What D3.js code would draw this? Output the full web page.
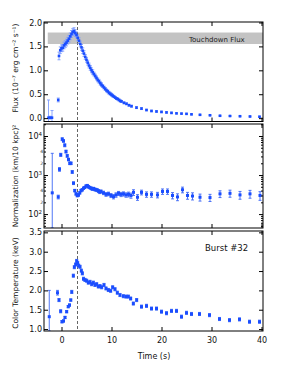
<!DOCTYPE html>
<html lang="en">
<head>
<meta charset="UTF-8">
<title>Burst #32</title>
<script src="https://d3js.org/d3.v7.min.js"></script>
<style>
  body { margin: 0; background: #fff; }
  text { font-family: "DejaVu Sans", Verdana, sans-serif; }
</style>
</head>
<body>
<div id="root"></div>
<script>
  // flux: [time (s), flux (1e-7 erg/cm2/s), error]
  const fluxData = [
    [-2.6, 0.01, 0.37], [-2.25, 0.01, 0.03], [-1.9, 0.01, 0.15], [-0.65, 0.38, 0.04],
    [-0.5, 1.30, 0.08], [-0.25, 1.42, 0.07], [0.0, 1.46, 0.07], [0.25, 1.47, 0.07],
    [0.5, 1.52, 0.07], [0.75, 1.55, 0.07], [1.0, 1.58, 0.07], [1.25, 1.62, 0.07],
    [1.5, 1.66, 0.07], [1.75, 1.71, 0.07], [2.0, 1.76, 0.07], [2.25, 1.80, 0.07],
    [2.5, 1.82, 0.07], [2.75, 1.78, 0.07], [3.0, 1.74, 0.06], [3.25, 1.68, 0.06],
    [3.5, 1.62, 0.06], [3.75, 1.55, 0.06], [4.0, 1.48, 0.06], [4.25, 1.41, 0.06],
    [4.5, 1.35, 0.06], [4.75, 1.28, 0.05], [5.0, 1.22, 0.05], [5.25, 1.16, 0.05],
    [5.5, 1.10, 0.05], [5.75, 1.05, 0.05], [6.0, 1.00, 0.05], [6.25, 0.96, 0.05],
    [6.5, 0.92, 0.04], [6.75, 0.88, 0.04], [7.0, 0.84, 0.04], [7.25, 0.80, 0.04],
    [7.5, 0.77, 0.04], [7.75, 0.73, 0.04], [8.0, 0.70, 0.04], [8.25, 0.67, 0.03],
    [8.5, 0.64, 0.03], [8.75, 0.61, 0.03], [9.0, 0.58, 0.03], [9.25, 0.56, 0.03],
    [9.5, 0.53, 0.03], [9.75, 0.51, 0.03], [10.0, 0.49, 0.03], [10.25, 0.47, 0.03],
    [10.5, 0.45, 0.02], [10.75, 0.43, 0.02], [11.0, 0.41, 0.02], [11.25, 0.40, 0.02],
    [11.5, 0.38, 0.02], [11.75, 0.36, 0.02], [12.0, 0.35, 0.02], [12.5, 0.32, 0.02],
    [13.0, 0.30, 0.02], [13.5, 0.27, 0.02], [14.0, 0.25, 0.02], [15.0, 0.22, 0.02],
    [16.0, 0.20, 0.02], [17.0, 0.17, 0.015], [18.0, 0.15, 0.015], [19.0, 0.14, 0.015],
    [20.0, 0.13, 0.015], [21.0, 0.12, 0.015], [22.0, 0.11, 0.015], [23.0, 0.10, 0.01],
    [24.0, 0.095, 0.01], [25.0, 0.09, 0.01], [26.0, 0.08, 0.01], [27.7, 0.07, 0.01],
    [29.7, 0.06, 0.01], [31.7, 0.05, 0.01], [33.7, 0.045, 0.01], [35.7, 0.04, 0.01],
    [37.7, 0.035, 0.01], [39.6, 0.03, 0.01]
  ]

  // normalization: [time (s), (km/10 kpc)^2, error]
  const normData = [
    [-1.85, 350, 3250], [-0.65, 275, 30], [-0.4, 1400, 150], [-0.15, 3300, 300],
    [0.15, 8300, 700], [0.4, 7500, 600], [0.65, 5800, 500], [0.9, 4000, 350],
    [1.15, 3100, 250], [1.4, 2500, 200], [1.65, 2000, 150], [1.9, 2000, 150],
    [2.15, 1200, 100], [2.4, 620, 50], [2.65, 400, 30], [2.9, 330, 25],
    [3.15, 300, 25], [3.4, 310, 25], [3.65, 350, 25], [3.9, 400, 30],
    [4.15, 420, 30], [4.4, 460, 30], [4.65, 480, 30], [4.9, 520, 35],
    [5.15, 540, 35], [5.4, 500, 35], [5.65, 480, 35], [5.9, 460, 35],
    [6.15, 440, 35], [6.4, 450, 35], [6.65, 430, 35], [6.9, 420, 35],
    [7.15, 410, 35], [7.4, 390, 35], [7.65, 370, 35], [7.9, 380, 35],
    [8.4, 350, 35], [8.9, 320, 35], [9.4, 330, 35], [9.9, 300, 35],
    [10.4, 280, 35], [10.9, 310, 40], [11.4, 340, 40], [11.9, 320, 40],
    [12.4, 330, 40], [12.9, 310, 40], [13.4, 320, 45], [13.9, 300, 45],
    [14.4, 360, 60], [15.2, 270, 45], [16.0, 360, 50], [17.0, 320, 50],
    [18.0, 320, 50], [19.2, 310, 50], [20.2, 380, 60], [21.2, 380, 60],
    [22.2, 300, 55], [23.2, 275, 55], [24.2, 420, 70], [25.2, 300, 60],
    [26.2, 290, 60], [27.7, 270, 55], [29.7, 265, 55], [31.7, 330, 65],
    [33.7, 340, 70], [35.7, 310, 70], [37.7, 330, 75], [39.7, 300, 75]
  ]

  // color temperature: [time (s), kT (keV), error]
  const tempData = [
    [-2.45, 1.32, 0.68], [-0.8, 1.94, 0.06], [-0.5, 1.75, 0.04], [-0.17, 1.46, 0.04],
    [0.1, 1.19, 0.03], [0.4, 1.21, 0.03], [0.7, 1.30, 0.03], [1.03, 1.45, 0.03],
    [1.35, 1.58, 0.03], [1.6, 1.62, 0.03], [1.85, 1.75, 0.03], [2.05, 1.96, 0.04],
    [2.37, 2.38, 0.04], [2.57, 2.60, 0.04], [2.83, 2.67, 0.04], [3.03, 2.76, 0.04],
    [3.23, 2.71, 0.04], [3.43, 2.64, 0.04], [3.7, 2.61, 0.04], [3.97, 2.51, 0.04],
    [4.17, 2.44, 0.04], [4.4, 2.30, 0.04], [4.7, 2.27, 0.04], [5.03, 2.25, 0.04],
    [5.37, 2.20, 0.04], [5.7, 2.22, 0.04], [6.03, 2.16, 0.04], [6.37, 2.20, 0.04],
    [6.7, 2.14, 0.04], [7.03, 2.16, 0.04], [7.37, 2.10, 0.04], [7.7, 2.11, 0.04],
    [8.03, 2.08, 0.04], [8.5, 2.14, 0.04], [8.9, 2.05, 0.04], [9.37, 2.01, 0.04],
    [9.83, 1.99, 0.04], [10.23, 2.08, 0.04], [10.7, 2.03, 0.04], [11.17, 1.94, 0.04],
    [11.7, 1.88, 0.04], [12.37, 1.85, 0.04], [12.9, 1.84, 0.04], [13.37, 1.84, 0.04],
    [13.83, 1.79, 0.04], [14.37, 1.66, 0.04], [15.03, 1.75, 0.04], [16.0, 1.58, 0.04],
    [17.0, 1.60, 0.04], [18.0, 1.53, 0.04], [19.0, 1.53, 0.04], [20.0, 1.45, 0.04],
    [21.0, 1.41, 0.04], [22.0, 1.47, 0.04], [23.0, 1.47, 0.04], [24.0, 1.32, 0.04],
    [25.0, 1.42, 0.04], [26.0, 1.39, 0.04], [27.6, 1.39, 0.04], [29.6, 1.36, 0.04],
    [31.6, 1.26, 0.04], [33.6, 1.23, 0.04], [35.6, 1.25, 0.04], [37.6, 1.19, 0.04],
    [39.6, 1.19, 0.04]
  ]

  const touchdown = [1.55, 1.79]      // touchdown flux band
  const touchdownStart = -2.75
  const peakTime = 3.2                 // dashed line
  const xTicks = [0, 10, 20, 30, 40]
  const fluxTicks = [0, 0.5, 1.0, 1.5, 2.0]
  const normTicks = [100, 1000, 10000]
  const normMinorLabels = [200, 400, 2000, 4000]
  const tempTicks = [1.0, 1.5, 2.0, 2.5, 3.0, 3.5]

  const blue = '#1a4dff'
  const width = 298, height = 385
  const left = 44, right = 263

  const svg = d3.select('#root').append('svg')
    .attr('width', width).attr('height', height)
    .style('background', '#fff')

  const x = d3.scaleLinear().domain([-3.5, 40.3]).range([left, right])
  const yFlux = d3.scaleLinear().domain([-0.07, 2.01]).range([121.5, 22])
  const yNorm = d3.scaleLog().domain([44, 20300]).range([228, 124])
  const yTemp = d3.scaleLinear().domain([0.95, 3.535]).range([331, 231])

  function drawPanel(id, y, data, opt) {
    const top = y.range()[1], bottom = y.range()[0]
    svg.append('clipPath').attr('id', id)
      .append('rect').attr('x', left).attr('y', top)
      .attr('width', right - left).attr('height', bottom - top)
    const g = svg.append('g').attr('clip-path', `url(#${id})`)

    if (opt.band) {
      g.append('rect')
        .attr('x', x(touchdownStart)).attr('y', y(touchdown[1]))
        .attr('width', right - x(touchdownStart))
        .attr('height', y(touchdown[0]) - y(touchdown[1]))
        .attr('fill', '#c3c3c3')
    }

    // dashed line at peak
    g.append('line')
      .attr('x1', x(peakTime)).attr('x2', x(peakTime))
      .attr('y1', top).attr('y2', bottom)
      .attr('stroke', '#555').attr('stroke-width', 0.9)
      .attr('stroke-dasharray', '3,2')

    const lo = d => y(Math.max(d[1] - d[2], y.domain()[0]))
    const hi = d => y(d[1] + d[2])
    const err = g.append('g').attr('stroke', opt.errColor).attr('stroke-width', 0.9)
    err.selectAll('line.v').data(data).enter().append('line')
      .attr('class', 'v')
      .attr('x1', d => x(d[0])).attr('x2', d => x(d[0]))
      .attr('y1', lo).attr('y2', hi)
    err.selectAll('line.c1').data(data).enter().append('line')
      .attr('class', 'c1')
      .attr('x1', d => x(d[0]) - 1.5).attr('x2', d => x(d[0]) + 1.5)
      .attr('y1', hi).attr('y2', hi)
    err.selectAll('line.c2').data(data).enter().append('line')
      .attr('class', 'c2')
      .attr('x1', d => x(d[0]) - 1.5).attr('x2', d => x(d[0]) + 1.5)
      .attr('y1', lo).attr('y2', lo)

    const s = opt.size
    g.selectAll('rect.pt').data(data).enter().append('rect')
      .attr('class', 'pt')
      .attr('x', d => x(d[0]) - s / 2).attr('y', d => y(d[1]) - s / 2)
      .attr('width', s).attr('height', s)
      .attr('fill', blue)

    // frame
    svg.append('rect')
      .attr('x', left).attr('y', top)
      .attr('width', right - left).attr('height', bottom - top)
      .attr('fill', 'none').attr('stroke', '#000').attr('stroke-width', 1)

    // x ticks inward, top and bottom
    const xt = svg.append('g').attr('transform', `translate(0,${top})`)
      .call(d3.axisTop(x).tickValues(xTicks).tickSize(-4).tickFormat(''))
    const xb = svg.append('g').attr('transform', `translate(0,${bottom})`)
      .call(d3.axisBottom(x).tickValues(xTicks).tickSize(-4).tickPadding(6)
        .tickFormat(opt.xLabels ? d3.format('d') : ''))
    ;[xt, xb].forEach(a => a.select('.domain').remove())
    xb.selectAll('text').attr('font-size', 8).attr('font-family', '"DejaVu Sans", sans-serif').attr('fill', '#111')

    // y ticks
    const yl = svg.append('g').attr('transform', `translate(${left},0)`)
      .call(d3.axisLeft(y).tickValues(opt.yTicks).tickSize(-4).tickPadding(2)
        .tickFormat(opt.yFormat || ''))
    const yr = svg.append('g').attr('transform', `translate(${right},0)`)
      .call(d3.axisRight(y).tickValues(opt.yTicks).tickSize(-4).tickFormat(''))
    ;[yl, yr].forEach(a => a.select('.domain').remove())
    yl.selectAll('text').attr('font-size', 8).attr('font-family', '"DejaVu Sans", sans-serif').attr('fill', '#111')
  }

  drawPanel('clipFlux', yFlux, fluxData, {
    band: true, errColor: '#7f9dff', size: 2.6,
    yTicks: fluxTicks, yFormat: d3.format('.1f')
  })

  drawPanel('clipNorm', yNorm, normData, {
    errColor: '#3d68f5', size: 3, yTicks: normTicks
  })

  drawPanel('clipTemp', yTemp, tempData, {
    errColor: '#3d68f5', size: 3, yTicks: tempTicks,
    yFormat: d3.format('.1f'), xLabels: true
  })

  // log minor ticks for normalization
  const minor = []
  ;[10, 100, 1000, 10000].forEach(dec => {
    for (let k = 2; k <= 9; k++) {
      const v = dec * k
      if (v > yNorm.domain()[0] && v < yNorm.domain()[1]) minor.push(v)
    }
  })
  svg.append('g').attr('transform', `translate(${left},0)`)
    .call(d3.axisLeft(yNorm).tickValues(minor).tickSize(-2).tickFormat(''))
    .select('.domain').remove()
  svg.append('g').attr('transform', `translate(${right},0)`)
    .call(d3.axisRight(yNorm).tickValues(minor).tickSize(-2).tickFormat(''))
    .select('.domain').remove()

  // 10^n labels
  const pow = svg.append('g').attr('font-size', 8).attr('fill', '#111')
  normTicks.forEach(v => {
    const t = pow.append('text')
      .attr('x', left - 2).attr('y', yNorm(v) + 3)
      .attr('text-anchor', 'end')
    t.append('tspan').text('10')
    t.append('tspan').attr('font-size', 5.5).attr('dy', -3.5).text(Math.round(Math.log10(v)))
  })
  svg.append('g').selectAll('text').data(normMinorLabels).enter().append('text')
    .attr('x', left - 1).attr('y', d => yNorm(d) + 1.5)
    .attr('text-anchor', 'end').attr('font-size', 4.5).attr('fill', '#333')
    .text(d => String(d)[0])

  // annotations
  svg.append('text').attr('x', 189).attr('y', 41.5)
    .attr('font-size', 7).attr('fill', '#222').text('Touchdown Flux')
  svg.append('text').attr('x', 205).attr('y', 250.5)
    .attr('font-size', 8.5).attr('fill', '#111').text('Burst #32')

  // axis titles (rotated)
  const yTitles = [
    { cy: 68, label: 'Flux (10\u207B\u2077 erg cm\u207B\u00B2 s\u207B\u00B9)' },
    { cy: 176, label: 'Normalization (km/10 kpc)\u00B2' },
    { cy: 283, label: 'Color Temperature (keV)' }
  ]
  yTitles.forEach(d => {
    svg.append('g').attr('transform', `translate(18,${d.cy})`)
      .append('text')
      .attr('transform', 'rotate(-90)')
      .attr('text-anchor', 'middle')
      .attr('font-size', 7.5).attr('fill', '#111')
      .text(d.label)
  })

  svg.append('text').attr('x', 154).attr('y', 359)
    .attr('text-anchor', 'middle').attr('font-size', 8).attr('fill', '#111')
    .text('Time (s)')
</script>
</body>
</html>
